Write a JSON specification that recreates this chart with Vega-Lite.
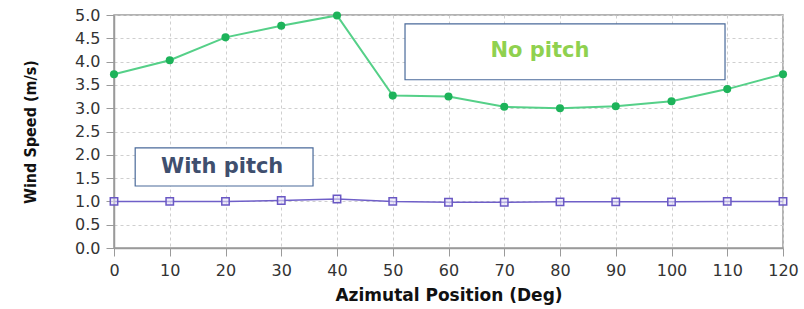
{
  "$schema": "https://vega.github.io/schema/vega-lite/v6.json",
  "autosize": {"type": "none"},
  "width": 669,
  "height": 233,
  "padding": {"left": 114, "top": 15, "right": 21, "bottom": 61},
  "background": "white",
  "config": {
    "view": {"stroke": "#9a9a9a", "strokeWidth": 1.5},
    "axis": {
      "labelFont": "DejaVu Sans",
      "labelFontSize": 16,
      "labelColor": "#333",
      "labelOverlap": false,
      "labelFlush": false,
      "labelBound": false,
      "domainColor": "#9a9a9a",
      "domainWidth": 1.5,
      "tickColor": "#9a9a9a",
      "tickSize": 8,
      "gridColor": "#cfcfcf",
      "gridDash": [3, 3],
      "titleColor": "#111",
      "labelPadding": 6
    },
    "axisX": {"tickCount": 13, "titleFont": "DejaVu Sans", "titleFontSize": 17, "titleFontWeight": "bold", "titlePadding": 9},
    "axisY": {"tickCount": 11, "format": ".1f", "titleFont": "DejaVu Sans Condensed", "titleFontSize": 16, "titleFontWeight": "bold", "titlePadding": 36}
  },
  "datasets": {
    "series": [
      {"az": 0, "speed": 3.73, "case": "No pitch"},
      {"az": 10, "speed": 4.03, "case": "No pitch"},
      {"az": 20, "speed": 4.52, "case": "No pitch"},
      {"az": 30, "speed": 4.77, "case": "No pitch"},
      {"az": 40, "speed": 4.99, "case": "No pitch"},
      {"az": 50, "speed": 3.27, "case": "No pitch"},
      {"az": 60, "speed": 3.25, "case": "No pitch"},
      {"az": 70, "speed": 3.03, "case": "No pitch"},
      {"az": 80, "speed": 3.0, "case": "No pitch"},
      {"az": 90, "speed": 3.04, "case": "No pitch"},
      {"az": 100, "speed": 3.15, "case": "No pitch"},
      {"az": 110, "speed": 3.41, "case": "No pitch"},
      {"az": 120, "speed": 3.73, "case": "No pitch"},
      {"az": 0, "speed": 1.0, "case": "With pitch"},
      {"az": 10, "speed": 1.0, "case": "With pitch"},
      {"az": 20, "speed": 1.0, "case": "With pitch"},
      {"az": 30, "speed": 1.02, "case": "With pitch"},
      {"az": 40, "speed": 1.05, "case": "With pitch"},
      {"az": 50, "speed": 1.0, "case": "With pitch"},
      {"az": 60, "speed": 0.98, "case": "With pitch"},
      {"az": 70, "speed": 0.98, "case": "With pitch"},
      {"az": 80, "speed": 0.99, "case": "With pitch"},
      {"az": 90, "speed": 0.99, "case": "With pitch"},
      {"az": 100, "speed": 0.99, "case": "With pitch"},
      {"az": 110, "speed": 1.0, "case": "With pitch"},
      {"az": 120, "speed": 1.0, "case": "With pitch"}
    ],
    "boxes": [
      {"label": "No pitch", "x1": 52.2, "x2": 109.6, "y1": 3.61, "y2": 4.81, "tx": 76.4, "ty": 4.23},
      {"label": "With pitch", "x1": 3.8, "x2": 35.7, "y1": 1.33, "y2": 2.15, "tx": 19.4, "ty": 1.74}
    ]
  },
  "layer": [
    {
      "data": {"name": "series"},
      "transform": [{"filter": "datum.case === 'No pitch'"}],
      "mark": {"type": "line", "color": "#55d088", "strokeWidth": 2},
      "encoding": {
        "x": {"field": "az", "type": "quantitative", "scale": {"domain": [0, 120], "nice": false},
          "axis": {"values": [0,10,20,30,40,50,60,70,80,90,100,110,120], "title": "Azimutal Position (Deg)"}},
        "y": {"field": "speed", "type": "quantitative", "scale": {"domain": [0, 5], "nice": false},
          "axis": {"values": [0,0.5,1,1.5,2,2.5,3,3.5,4,4.5,5], "title": "Wind Speed (m/s)"}}
      }
    },
    {
      "data": {"name": "series"},
      "transform": [{"filter": "datum.case === 'No pitch'"}],
      "mark": {"type": "point", "filled": true, "color": "#1db35a", "size": 65, "opacity": 1},
      "encoding": {
        "x": {"field": "az", "type": "quantitative"},
        "y": {"field": "speed", "type": "quantitative"}
      }
    },
    {
      "data": {"name": "series"},
      "transform": [{"filter": "datum.case === 'With pitch'"}],
      "mark": {"type": "line", "color": "#6f5fc8", "strokeWidth": 1.5},
      "encoding": {
        "x": {"field": "az", "type": "quantitative"},
        "y": {"field": "speed", "type": "quantitative"}
      }
    },
    {
      "data": {"name": "series"},
      "transform": [{"filter": "datum.case === 'With pitch'"}],
      "mark": {"type": "point", "shape": "square", "filled": false, "color": "#6a58c4", "size": 55, "strokeWidth": 1.5, "fill": "#e6e2f6", "fillOpacity": 0.6},
      "encoding": {
        "x": {"field": "az", "type": "quantitative"},
        "y": {"field": "speed", "type": "quantitative"}
      }
    },
    {
      "data": {"name": "boxes"},
      "mark": {"type": "rect", "fill": "white", "stroke": "#4a6a9a", "strokeWidth": 1.2},
      "encoding": {
        "x": {"field": "x1", "type": "quantitative"},
        "x2": {"field": "x2"},
        "y": {"field": "y1", "type": "quantitative"},
        "y2": {"field": "y2"}
      }
    },
    {
      "data": {"name": "boxes"},
      "mark": {"type": "text", "font": "DejaVu Sans", "fontSize": 21, "fontWeight": "bold", "align": "center", "baseline": "middle"},
      "encoding": {
        "x": {"field": "tx", "type": "quantitative"},
        "y": {"field": "ty", "type": "quantitative"},
        "text": {"field": "label"},
        "color": {"field": "label", "type": "nominal", "scale": {"domain": ["No pitch", "With pitch"], "range": ["#8fd14f", "#3f4f6e"]}, "legend": null}
      }
    }
  ]
}
